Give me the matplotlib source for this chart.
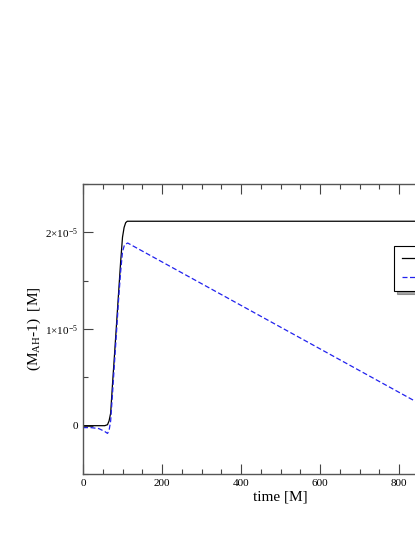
import matplotlib.pyplot as plt
from matplotlib.ticker import MultipleLocator, FixedFormatter, FixedLocator

# Data (values in units of 1e-5 M)
t_solid = [0, 55, 62, 66, 70, 75, 80, 85, 90, 95, 100, 104, 108, 112, 1000]
m_solid = [0, 0, 0.01, 0.05, 0.13, 0.45, 0.75, 1.06, 1.37, 1.68, 1.95, 2.05, 2.1, 2.115, 2.115]

t_dash = [0, 20, 40, 55, 62, 66, 70, 75, 80, 85, 90, 95, 100, 105, 113, 1000]
m_dash = [-0.02, -0.02, -0.03, -0.06, -0.08, -0.05, 0.05, 0.35, 0.67, 0.98, 1.3, 1.58, 1.8, 1.87, 1.89, -0.105]

labels = ['apparent horizon', 'isolated horizon']
yticks = [0, 1, 2]
yticklabels = ['0', r'$1{\times}10^{-5}$', r'$2{\times}10^{-5}$']

plt.rcParams['font.family'] = ['Liberation Serif', 'DejaVu Serif']
plt.rcParams['mathtext.fontset'] = 'custom'
plt.rcParams['mathtext.rm'] = 'Liberation Serif'
plt.rcParams['mathtext.it'] = 'Liberation Serif:italic'

fig = plt.figure(figsize=(4.15, 5.37), dpi=100)
ax = fig.add_axes([0.2, 0.1173, 0.952, 0.540])

ax.plot(t_solid, m_solid, color='black', lw=0.9, label=labels[0])
ax.plot(t_dash, m_dash, color='#2222ee', lw=0.9, ls=(0, (4, 2)), label=labels[1])

ax.set_xlim(0, 1000)
ax.set_ylim(-0.5, 2.5)
ax.xaxis.set_major_locator(MultipleLocator(200))
ax.xaxis.set_minor_locator(MultipleLocator(50))
ax.yaxis.set_major_locator(FixedLocator(yticks))
ax.yaxis.set_major_formatter(FixedFormatter(yticklabels))
ax.yaxis.set_minor_locator(MultipleLocator(0.5))

ax.tick_params(which='both', direction='in', top=True, right=True, colors='#444444',
               labelcolor='black', labelsize=8, width=0.8)
ax.tick_params(which='major', length=7)
ax.tick_params(which='minor', length=3.5)
for s in ax.spines.values():
    s.set_color('#555555')
    s.set_linewidth(1.0)

ax.set_xlabel('time [M]', fontsize=11, labelpad=2)
ax.set_ylabel(r'(M$_{\mathrm{AH}}$-1)  [M]', fontsize=11)
ax.yaxis.set_label_coords(-0.10, 0.5)

leg = ax.legend(loc='upper left', bbox_to_anchor=(0.787, 0.786), fontsize=8,
                fancybox=False, shadow=True, framealpha=1, edgecolor='black',
                borderaxespad=0, handlelength=3, labelspacing=0.8, borderpad=0.75,
                handletextpad=0.8)
leg.get_frame().set_linewidth(0.8)

fig.savefig('out.png', dpi=100)
